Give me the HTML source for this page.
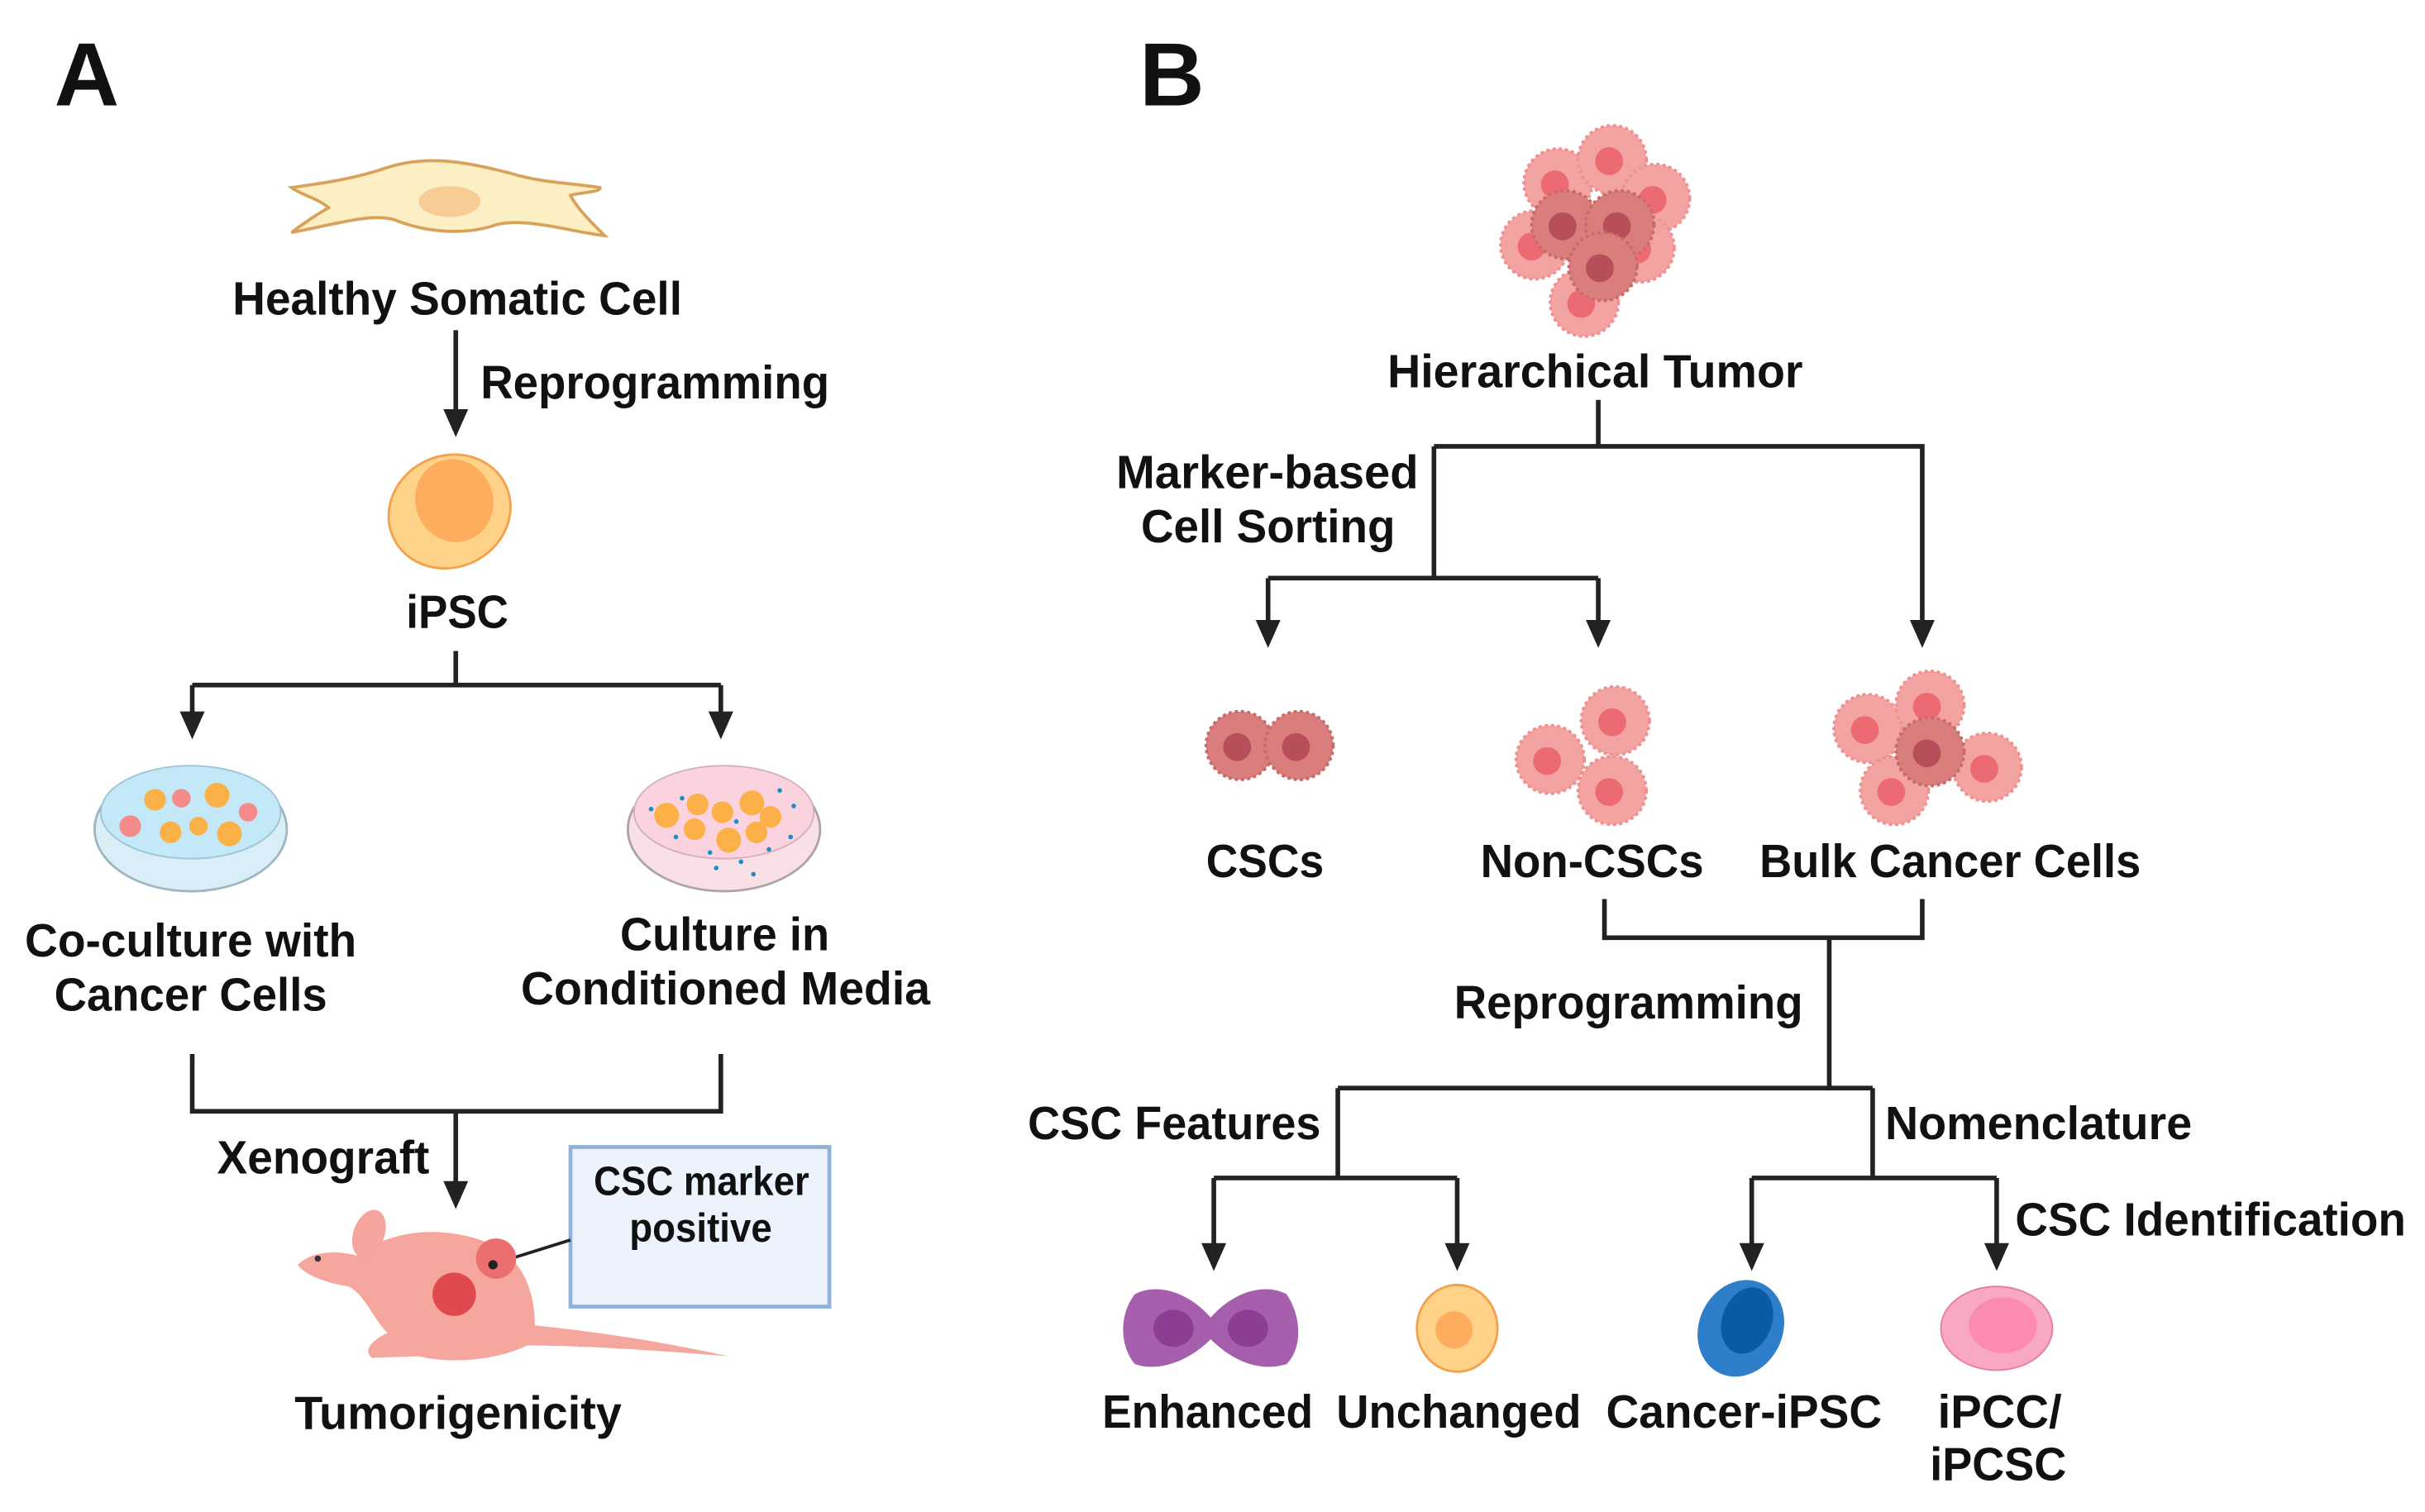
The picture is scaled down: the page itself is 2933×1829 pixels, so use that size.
<!DOCTYPE html>
<html><head><meta charset="utf-8"><style>
html,body{margin:0;padding:0;background:#fff;}
svg{display:block;}
text{font-family:"Liberation Sans",sans-serif;font-weight:bold;fill:#111;font-size:30px;}
</style></head><body>
<svg width="2933" height="1829" viewBox="0 0 1564.3 975.5" xmlns="http://www.w3.org/2000/svg">
<defs>
<g id="pc"><circle r="22" fill="#f4a3a3" stroke="#ee9090" stroke-width="2" stroke-dasharray="2 2"/><circle r="9" cx="-2" cy="1" fill="#ec6a72"/></g>
<g id="dc"><circle r="22" fill="#d97d7d" stroke="#c96a6a" stroke-width="2" stroke-dasharray="2 2"/><circle r="9" cx="-2" cy="1" fill="#b84e5a"/></g>
<path id="ah" d="M-8,-18 L8,-18 L0,0 Z" fill="#222"/>
</defs>
<g stroke="#222" stroke-width="3" fill="none">
<!-- A -->
<path d="M294,213 V266"/>
<path d="M294,420 V442 M124,442 H465 M124,442 V461 M465,442 V461"/>
<path d="M124,680 V717 H465 V680 M294,717 V764"/>
<!-- B -->
<path d="M1031,258 V288 M925,288 H1240 V402 M925,288 V373 M818,373 H1031 M818,373 V402 M1031,373 V402"/>
<path d="M1035,580 V605 H1240 V580 M1180,605 V702 M863,702 H1208 M863,702 V760 M1208,702 V760 M783,760 H940 M1130,760 H1288 M783,760 V804 M940,760 V804 M1130,760 V804 M1288,760 V804"/>
</g>
<use href="#ah" x="294" y="282"/>
<use href="#ah" x="124" y="477"/><use href="#ah" x="465" y="477"/>
<use href="#ah" x="294" y="780"/>
<use href="#ah" x="818" y="418"/><use href="#ah" x="1031" y="418"/><use href="#ah" x="1240" y="418"/>
<use href="#ah" x="783" y="820"/><use href="#ah" x="940" y="820"/><use href="#ah" x="1130" y="820"/><use href="#ah" x="1288" y="820"/>
<!-- letters -->
<text x="35" y="68" style="font-size:58px">A</text>
<text x="735" y="68" style="font-size:58px">B</text>
<!-- somatic cell -->
<path d="M188,121 C210,118 230,115 250,108 C275,100 300,104 330,112 C350,118 368,118 387,121 C388,124 375,124 368,126 C372,134 380,142 390,152 C370,150 340,140 320,145 C300,152 275,150 255,142 C240,137 215,145 188,150 C196,144 205,138 212,134 C205,128 195,126 188,121 Z" fill="#fdefc4" stroke="#d8a25a" stroke-width="2"/>
<ellipse cx="290" cy="130" rx="20" ry="10" fill="#f7cd95"/>
<!-- iPSC -->
<ellipse cx="290" cy="330" rx="40" ry="36" transform="rotate(-25 290 330)" fill="#fed289" stroke="#f5a04a" stroke-width="1.5"/>
<ellipse cx="293" cy="323" rx="25" ry="27" transform="rotate(-20 293 323)" fill="#fdad5d"/>
<!-- dishes -->
<g>
<ellipse cx="123" cy="535" rx="62" ry="40" fill="#d9eef6" stroke="#9fb6c0" stroke-width="1.5"/>
<ellipse cx="123" cy="524" rx="58" ry="30" fill="#c3e8f8" stroke="#9fc4d4" stroke-width="1"/>
<circle cx="100" cy="516" r="7" fill="#fbb147"/><circle cx="117" cy="515" r="6" fill="#f48a8a"/><circle cx="140" cy="513" r="8" fill="#fbb147"/><circle cx="84" cy="533" r="7" fill="#f48a8a"/><circle cx="110" cy="537" r="7" fill="#fbb147"/><circle cx="128" cy="533" r="6" fill="#fbb147"/><circle cx="148" cy="538" r="8" fill="#fbb147"/><circle cx="160" cy="524" r="6" fill="#f48a8a"/>
</g>
<g>
<ellipse cx="467" cy="535" rx="62" ry="40" fill="#f9dfe6" stroke="#b0a0a8" stroke-width="1.5"/>
<ellipse cx="467" cy="524" rx="58" ry="30" fill="#fbd3df" stroke="#d8b0bd" stroke-width="1"/>
<circle cx="430" cy="526" r="8" fill="#fbb147"/><circle cx="450" cy="519" r="7" fill="#fbb147"/><circle cx="466" cy="524" r="7" fill="#fbb147"/><circle cx="485" cy="518" r="8" fill="#fbb147"/><circle cx="497" cy="527" r="7" fill="#fbb147"/><circle cx="448" cy="535" r="7" fill="#fbb147"/><circle cx="470" cy="542" r="8" fill="#fbb147"/><circle cx="488" cy="537" r="7" fill="#fbb147"/>
<g fill="#1a90c0"><circle cx="420" cy="522" r="1.5"/><circle cx="436" cy="540" r="1.5"/><circle cx="458" cy="550" r="1.5"/><circle cx="478" cy="556" r="1.5"/><circle cx="496" cy="548" r="1.5"/><circle cx="510" cy="540" r="1.5"/><circle cx="512" cy="520" r="1.5"/><circle cx="462" cy="560" r="1.5"/><circle cx="486" cy="564" r="1.5"/><circle cx="440" cy="515" r="1.5"/><circle cx="475" cy="530" r="1.5"/><circle cx="503" cy="510" r="1.5"/></g>
</g>
<!-- box -->
<rect x="368" y="740" width="167" height="103" fill="#ecf3fc" stroke="#8fb1dc" stroke-width="2.5"/>
<line x1="320" y1="815" x2="368" y2="800" stroke="#222" stroke-width="2"/>
<!-- mouse -->
<path d="M230,810 C250,795 280,790 310,800 C335,808 345,830 345,855 C360,857 400,860 470,875 C430,872 380,868 340,868 C320,878 290,880 270,875 L240,876 C232,870 245,862 250,860 C240,850 236,836 225,830 C210,828 196,822 192,816 C200,808 215,806 230,810 Z" fill="#f6a79d"/>
<ellipse cx="238" cy="796" rx="10" ry="16" fill="#f5a59c" transform="rotate(20 238 796)"/>
<circle cx="320" cy="812" r="13" fill="#ec6f6f"/><circle cx="318" cy="816" r="3" fill="#222"/>
<circle cx="293" cy="835" r="14" fill="#df4a4f"/>
<circle cx="205" cy="812" r="2" fill="#333"/>
<!-- tumor -->
<use href="#pc" x="1005" y="118"/><use href="#pc" x="1040" y="103"/><use href="#pc" x="1068" y="128"/><use href="#pc" x="990" y="158"/><use href="#pc" x="1058" y="160"/><use href="#pc" x="1022" y="195"/>
<use href="#dc" x="1010" y="145"/><use href="#dc" x="1045" y="145"/><use href="#dc" x="1034" y="172"/>
<!-- CSCs -->
<use href="#dc" x="800" y="481" /><use href="#dc" x="838" y="481"/>
<!-- non-CSC -->
<use href="#pc" x="1000" y="490"/><use href="#pc" x="1042" y="465"/><use href="#pc" x="1040" y="510"/>
<!-- bulk -->
<use href="#pc" x="1205" y="470"/><use href="#pc" x="1245" y="455"/><use href="#pc" x="1282" y="495"/><use href="#pc" x="1222" y="510"/><use href="#dc" x="1245" y="485"/>
<!-- bottom icons -->
<path d="M732,835 C745,828 765,832 781,850 C797,832 817,828 830,835 C840,850 840,870 830,880 C815,885 797,880 781,864 C765,880 745,885 732,880 C722,868 722,848 732,835 Z" fill="#a65fad"/>
<ellipse cx="757" cy="857" rx="13" ry="12" fill="#8c3f92"/><ellipse cx="805" cy="857" rx="13" ry="12" fill="#8c3f92"/>
<ellipse cx="940" cy="857" rx="26" ry="28" fill="#fed289" stroke="#f5a04a" stroke-width="1.5"/><circle cx="938" cy="858" r="12" fill="#fdad5d"/>
<ellipse cx="1123" cy="857" rx="27" ry="32" transform="rotate(25 1123 857)" fill="#2f7ec9"/><ellipse cx="1127" cy="852" rx="16" ry="22" transform="rotate(20 1127 852)" fill="#0a5aa8"/>
<ellipse cx="1288" cy="857" rx="36" ry="27" fill="#f9a8c4" stroke="#e27fa3" stroke-width="1"/><ellipse cx="1292" cy="855" rx="22" ry="18" fill="#fc8bb4"/>
<!-- labels -->
<text x="150" y="203" textLength="290" lengthAdjust="spacingAndGlyphs">Healthy Somatic Cell</text>
<text x="310" y="257" textLength="225" lengthAdjust="spacingAndGlyphs">Reprogramming</text>
<text x="262" y="405" textLength="66" lengthAdjust="spacingAndGlyphs">iPSC</text>
<text x="16" y="617" textLength="214" lengthAdjust="spacingAndGlyphs">Co-culture with</text>
<text x="35" y="652" textLength="176" lengthAdjust="spacingAndGlyphs">Cancer Cells</text>
<text x="400" y="613" textLength="135" lengthAdjust="spacingAndGlyphs">Culture in</text>
<text x="336" y="648" textLength="264" lengthAdjust="spacingAndGlyphs">Conditioned Media</text>
<text x="140" y="757" textLength="137" lengthAdjust="spacingAndGlyphs">Xenograft</text>
<text x="383" y="771" textLength="139" lengthAdjust="spacingAndGlyphs" style="font-size:26px">CSC marker</text>
<text x="406" y="801" textLength="92" lengthAdjust="spacingAndGlyphs" style="font-size:26px">positive</text>
<text x="190" y="922" textLength="211" lengthAdjust="spacingAndGlyphs">Tumorigenicity</text>
<text x="895" y="250" textLength="268" lengthAdjust="spacingAndGlyphs">Hierarchical Tumor</text>
<text x="720" y="315" textLength="195" lengthAdjust="spacingAndGlyphs">Marker-based</text>
<text x="736" y="350" textLength="164" lengthAdjust="spacingAndGlyphs">Cell Sorting</text>
<text x="778" y="566" textLength="76" lengthAdjust="spacingAndGlyphs">CSCs</text>
<text x="955" y="566" textLength="144" lengthAdjust="spacingAndGlyphs">Non-CSCs</text>
<text x="1135" y="566" textLength="246" lengthAdjust="spacingAndGlyphs">Bulk Cancer Cells</text>
<text x="938" y="657" textLength="225" lengthAdjust="spacingAndGlyphs">Reprogramming</text>
<text x="663" y="735" textLength="189" lengthAdjust="spacingAndGlyphs">CSC Features</text>
<text x="1216" y="735" textLength="198" lengthAdjust="spacingAndGlyphs">Nomenclature</text>
<text x="1300" y="797" textLength="252" lengthAdjust="spacingAndGlyphs">CSC Identification</text>
<text x="711" y="921" textLength="136" lengthAdjust="spacingAndGlyphs">Enhanced</text>
<text x="862" y="921" textLength="158" lengthAdjust="spacingAndGlyphs">Unchanged</text>
<text x="1036" y="921" textLength="178" lengthAdjust="spacingAndGlyphs">Cancer-iPSC</text>
<text x="1250" y="921" textLength="80" lengthAdjust="spacingAndGlyphs">iPCC/</text>
<text x="1245" y="955" textLength="88" lengthAdjust="spacingAndGlyphs">iPCSC</text>
</svg>
</body></html>
